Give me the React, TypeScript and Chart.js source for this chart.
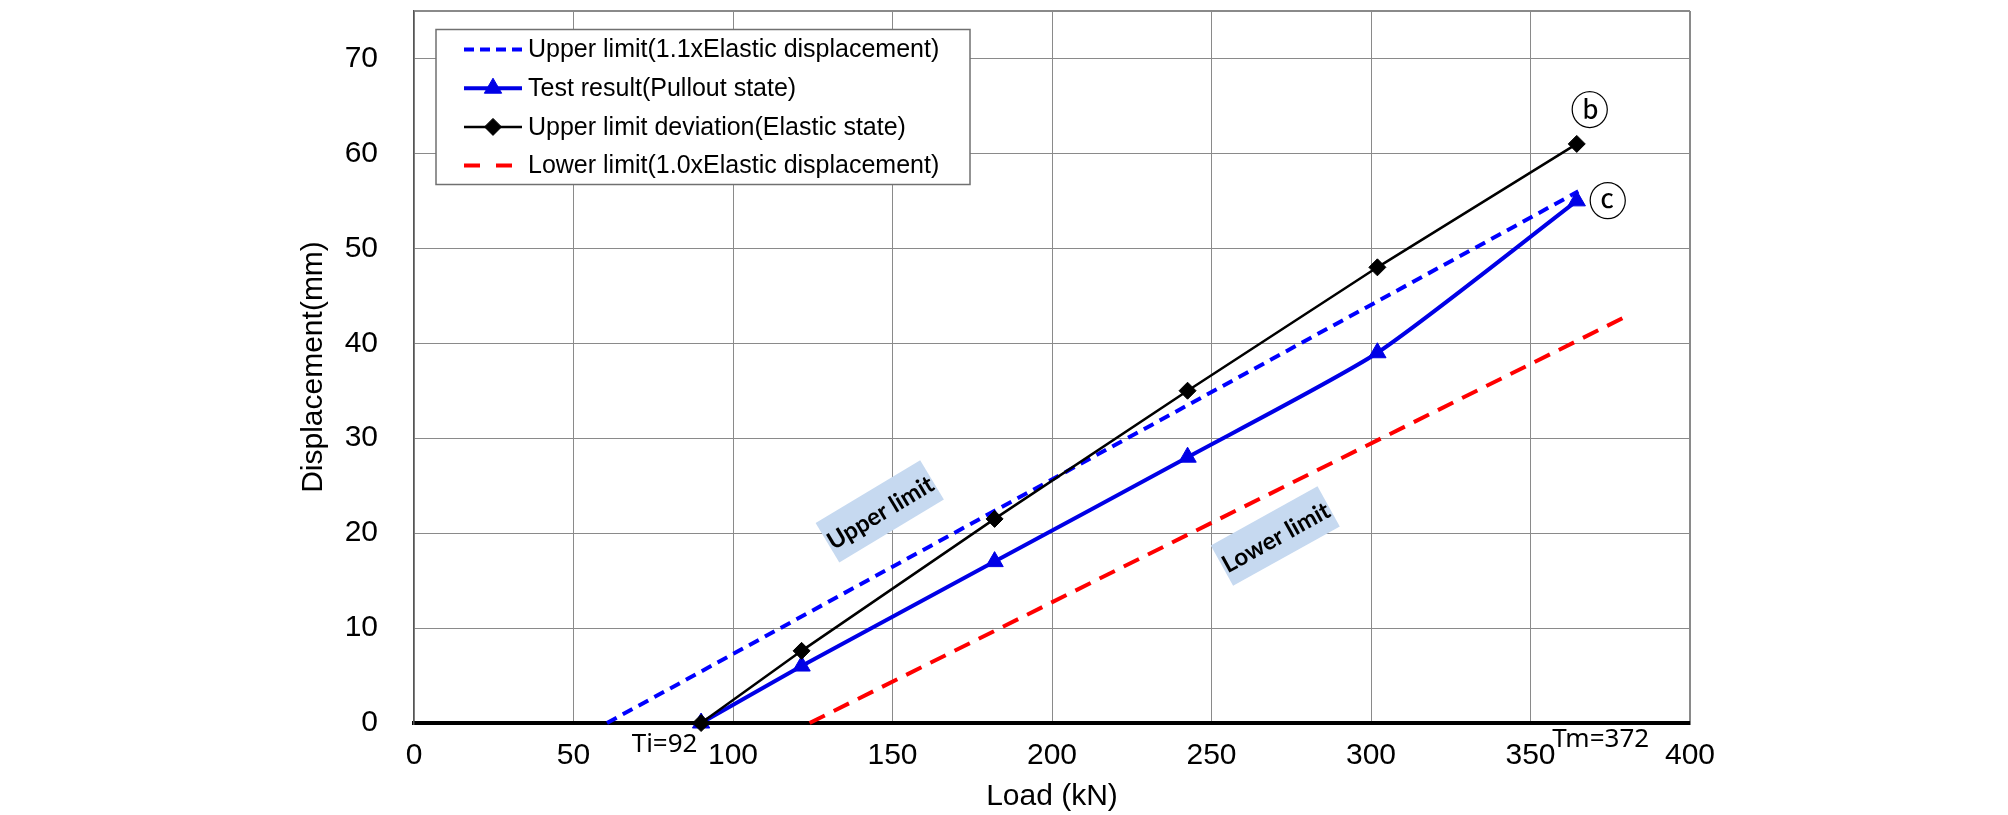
import React, { useEffect, useRef } from 'react';
import { Chart, registerables } from 'chart.js';
import { drawPoint } from 'chart.js/helpers';

Chart.register(...registerables);

// ---- data ----
const seriesNames = [
  'Upper limit(1.1xElastic displacement)',
  'Test result(Pullout state)',
  'Upper limit deviation(Elastic state)',
  'Lower limit(1.0xElastic displacement)',
];
const upperLoad = [60.5, 365];
const upperDisp = [0, 56];
const testLoad = [90, 121.5, 182, 242.5, 302, 364.5];
const testDisp = [0, 6, 17, 28, 39, 55];
const elasticLoad = [90, 121.5, 182, 242.5, 302, 364.5];
const elasticDisp = [0, 7.6, 21.5, 35, 48, 61];
const lowerLoad = [124, 381];
const lowerDisp = [0, 43];
const xTickValues = [0, 50, 100, 150, 200, 250, 300, 350, 400];
const yTickValues = [0, 10, 20, 30, 40, 50, 60, 70];
const yAxisMax = 75;
const xTitle = 'Load (kN)';
const yTitle = 'Displacement(mm)';
const tiLoad = 92;
const tmLoad = 372;
const tiLabel = 'Ti=92';
const tmLabel = 'Tm=372';
const endMarks = ['ⓑ', 'ⓒ'];
const zoneLabels = ['Upper limit', 'Lower limit'];
const zoneLoad = [146, 270];
const zoneDisp = [22.3, 19.7];
const zoneAngle = [31, 29];

const toPts = (xs: number[], ys: number[]) => xs.map((x, i) => ({ x, y: ys[i] }));

const legendDashes: Record<number, number[]> = { 0: [10, 6], 3: [16, 16] };

const legendPlugin = {
  id: 'boxLegend',
  afterDraw(chart: any) {
    const ctx = chart.ctx;
    const { left, top } = chart.chartArea;
    const bx = left + 22;
    const by = top + 18.5;
    const bw = 534;
    const bh = 155;
    ctx.save();
    ctx.fillStyle = '#ffffff';
    ctx.fillRect(bx, by, bw, bh);
    ctx.strokeStyle = '#707070';
    ctx.lineWidth = 1.5;
    ctx.strokeRect(bx, by, bw, bh);
    chart.data.datasets.forEach((ds: any, i: number) => {
      const cy = by + 20 + i * 38.7;
      ctx.save();
      ctx.strokeStyle = ds.borderColor;
      ctx.lineWidth = ds.borderWidth;
      ctx.setLineDash(legendDashes[i] || []);
      ctx.beginPath();
      ctx.moveTo(bx + 28, cy);
      ctx.lineTo(bx + 86, cy);
      ctx.stroke();
      ctx.restore();
      if (ds.pointRadius > 0) {
        ctx.save();
        ctx.fillStyle = ds.pointBackgroundColor;
        ctx.strokeStyle = ds.pointBorderColor;
        ctx.lineWidth = 1;
        drawPoint(ctx, { pointStyle: ds.pointStyle, radius: ds.pointRadius, borderWidth: 1, rotation: 0 } as any, bx + 57, cy);
        ctx.restore();
      }
      ctx.fillStyle = '#000000';
      ctx.font = '25px "Liberation Sans"';
      ctx.textAlign = 'left';
      ctx.textBaseline = 'middle';
      ctx.fillText(ds.label, bx + 92, cy + 1);
    });
    ctx.restore();
  },
};

const notePlugin = {
  id: 'notes',
  afterDatasetsDraw(chart: any) {
    const ctx = chart.ctx;
    const xs = chart.scales.x;
    const ys = chart.scales.y;
    ctx.save();
    // zone labels
    zoneLabels.forEach((t, i) => {
      const px = xs.getPixelForValue(zoneLoad[i]);
      const py = ys.getPixelForValue(zoneDisp[i]);
      ctx.save();
      ctx.translate(px, py);
      ctx.rotate((-zoneAngle[i] * Math.PI) / 180);
      ctx.fillStyle = 'rgb(198,217,240)';
      ctx.fillRect(-61, -23, 122, 46);
      ctx.fillStyle = '#000000';
      ctx.font = 'bold 24px Lato';
      ctx.textAlign = 'center';
      ctx.textBaseline = 'middle';
      ctx.fillText(t, 0, 2);
      ctx.restore();
    });
    // Ti / Tm
    ctx.fillStyle = '#000000';
    ctx.font = '26px "Noto Sans"';
    ctx.textBaseline = 'middle';
    const y0 = ys.getPixelForValue(0);
    ctx.textAlign = 'right';
    ctx.fillText(tiLabel, xs.getPixelForValue(tiLoad) - 10, y0 + 22);
    ctx.textAlign = 'center';
    ctx.fillText(tmLabel, xs.getPixelForValue(tmLoad), y0 + 17);
    // end marks
    ctx.font = '39px "Noto Sans CJK KR"';
    const eLast = elasticLoad.length - 1;
    const tLast = testLoad.length - 1;
    ctx.fillText(endMarks[0], xs.getPixelForValue(elasticLoad[eLast]) + 13, ys.getPixelForValue(elasticDisp[eLast]) - 35);
    ctx.fillText(endMarks[1], xs.getPixelForValue(testLoad[tLast]) + 31, ys.getPixelForValue(testDisp[tLast]) - 1);
    ctx.restore();
  },
};

export default function App() {
  const ref = useRef<HTMLCanvasElement | null>(null);
  useEffect(() => {
    if (!ref.current) return;
    const blue = 'rgb(0,0,230)';
    const chart = new Chart(ref.current, {
      type: 'scatter',
      data: {
        datasets: [
          {
            label: seriesNames[0],
            data: toPts(upperLoad, upperDisp),
            showLine: true,
            borderColor: '#0000ff',
            backgroundColor: '#0000ff',
            borderWidth: 4,
            borderDash: [11, 7],
            pointRadius: 0,
            order: 2,
            clip: false as any,
          },
          {
            label: seriesNames[1],
            data: toPts(testLoad, testDisp),
            showLine: true,
            borderColor: blue,
            backgroundColor: blue,
            pointBackgroundColor: blue,
            pointBorderColor: blue,
            borderWidth: 4,
            pointStyle: 'triangle',
            pointRadius: 10,
            pointBorderWidth: 1,
            tension: 0.2,
            order: 1,
            clip: false as any,
          },
          {
            label: seriesNames[2],
            data: toPts(elasticLoad, elasticDisp),
            showLine: true,
            borderColor: '#000000',
            backgroundColor: '#000000',
            pointBackgroundColor: '#000000',
            pointBorderColor: '#000000',
            borderWidth: 2.5,
            pointStyle: 'rectRot',
            pointRadius: 8.5,
            pointBorderWidth: 1,
            order: 0,
            clip: false as any,
          },
          {
            label: seriesNames[3],
            data: toPts(lowerLoad, lowerDisp),
            showLine: true,
            borderColor: '#ff0000',
            backgroundColor: '#ff0000',
            borderWidth: 4,
            borderDash: [17, 10],
            pointRadius: 0,
            order: 3,
            clip: false as any,
          },
        ] as any,
      },
      options: {
        animation: false,
        responsive: false,
        devicePixelRatio: 1,
        layout: { padding: { left: 0, right: 318, top: 5.5, bottom: 0 } },
        plugins: { legend: { display: false }, tooltip: { enabled: false } },
        scales: {
          x: {
            type: 'linear',
            min: 0,
            max: 400,
            afterBuildTicks: (s: any) => {
              s.ticks = xTickValues.map((v) => ({ value: v }));
            },
            afterFit: (s: any) => {
              s.height = 92;
              s.paddingLeft = 0;
              s.paddingRight = 0;
            },
            ticks: {
              autoSkip: false,
              maxRotation: 0,
              padding: 15,
              color: '#000000',
              font: { size: 30, family: '"Liberation Sans"' },
            },
            grid: {
              drawTicks: false,
              color: (c: any) => (c.tick && c.tick.value === 0 ? '#555555' : '#8a8a8a'),
              lineWidth: (c: any) => (c.tick && c.tick.value === 400 ? 2 : c.tick && c.tick.value === 0 ? 1.5 : 1),
            },
            border: { display: true, color: '#000000', width: 4 },
            title: {
              display: true,
              text: xTitle,
              color: '#000000',
              font: { size: 30, family: '"Liberation Sans"' },
              padding: { top: 0, bottom: 0 },
            },
          },
          y: {
            type: 'linear',
            min: 0,
            max: yAxisMax,
            afterBuildTicks: (s: any) => {
              s.ticks = [...yTickValues, yAxisMax].map((v) => ({ value: v }));
            },
            afterFit: (s: any) => {
              s.width = 414;
              s.paddingTop = 0;
              s.paddingBottom = 0;
            },
            ticks: {
              padding: 36,
              color: '#000000',
              font: { size: 30, family: '"Liberation Sans"' },
              callback: (v: any) => (yTickValues.includes(Number(v)) ? String(v) : ''),
            },
            grid: {
              drawTicks: false,
              color: (c: any) => (c.tick && c.tick.value === 0 ? '#000000' : '#8a8a8a'),
              lineWidth: (c: any) =>
                c.tick && c.tick.value === 0 ? 4 : c.tick && c.tick.value === yAxisMax ? 2 : 1,
            },
            border: { display: true, color: '#555555', width: 1.5 },
            title: {
              display: true,
              text: yTitle,
              color: '#000000',
              font: { size: 30, family: '"Liberation Sans"' },
              padding: { top: 296, bottom: 0 },
            },
          },
        },
      } as any,
      plugins: [notePlugin, legendPlugin],
    });
    return () => chart.destroy();
  }, []);
  return (
    <div style={{ position: 'fixed', left: 0, top: 0, width: 2008, height: 815, background: '#ffffff' }}>
      <canvas ref={ref} width={2008} height={815} style={{ display: 'block' }} />
    </div>
  );
}
